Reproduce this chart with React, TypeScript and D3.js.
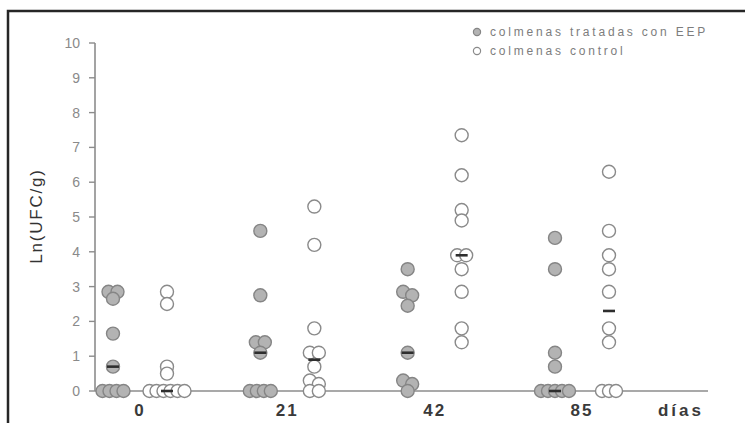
import React from "react";
import * as d3 from "d3";

// ---- data ----
const days = ["0", "21", "42", "85"];
const groups = ["tratadas", "control"];
const treated: number[][] = [
  [2.85, 2.85, 2.65, 1.65, 0.7, 0, 0, 0, 0],
  [4.6, 2.75, 1.4, 1.4, 1.1, 0, 0, 0, 0],
  [3.5, 2.85, 2.75, 2.45, 1.1, 0.3, 0.2, 0],
  [4.4, 3.5, 1.1, 0.7, 0, 0, 0, 0, 0],
];
const control: number[][] = [
  [2.85, 2.5, 0.7, 0.5, 0, 0, 0, 0, 0, 0],
  [5.3, 4.2, 1.8, 1.1, 1.1, 0.7, 0.3, 0.2, 0, 0],
  [7.35, 6.2, 5.2, 4.9, 3.9, 3.9, 3.5, 2.85, 1.8, 1.4],
  [6.3, 4.6, 3.9, 3.5, 2.85, 1.8, 1.4, 0, 0, 0],
];
const treatedMedian = [0.7, 1.1, 1.1, 0];
const controlMedian = [0, 0.9, 3.9, 2.3];
const yTicks = [0, 1, 2, 3, 4, 5, 6, 7, 8, 9, 10];
const legendLabels = ["colmenas tratadas con EEP", "colmenas control"];
const yTitle = "Ln(UFC/g)";
const xTitle = "días";

const W = 745;
const H = 423;
const axisX = 95;
const axisRight = 708;

const y = d3.scaleLinear().domain([0, 10]).range([391, 43]);
const xDay = d3.scalePoint<string>().domain(days).range([140, 582]);
const xGroup = d3.scalePoint<string>().domain(groups).range([-27, 27]);

const R = 6.5;

function layout(values: number[]) {
  // cluster (near-)identical values and spread them horizontally
  const sorted = [...values].sort((a, b) => b - a);
  const clusters: number[][] = [];
  sorted.forEach((v) => {
    const last = clusters[clusters.length - 1];
    if (last && Math.abs(last[0] - v) <= 0.12) last.push(v);
    else clusters.push([v]);
  });
  const out: { v: number; dx: number }[] = [];
  clusters.forEach((c) => {
    const n = c.length;
    const step = n === 2 ? 9 : 7;
    c.forEach((v, i) => out.push({ v, dx: (i - (n - 1) / 2) * step }));
  });
  return out;
}

const tickFont = "'Liberation Sans Narrow', 'Liberation Sans', Arial, sans-serif";
const font = "'Liberation Sans', Arial, sans-serif";

export default function App() {
  const sets = [
    { key: "tratadas", data: treated, med: treatedMedian, fill: "#b3b3b3", stroke: "#858585" },
    { key: "control", data: control, med: controlMedian, fill: "#ffffff", stroke: "#8a8a8a" },
  ];
  return (
    <svg
      width={W}
      height={H}
      style={{ position: "absolute", left: 0, top: 0, background: "#fff" }}
    >
      <rect x={0} y={0} width={W} height={H} fill="#fff" />
      <rect x={8} y={11} width={800} height={500} fill="none" stroke="#262626" strokeWidth={2.5} />

      {/* y axis */}
      <line x1={axisX} x2={axisX} y1={y(10)} y2={y(0)} stroke="#8c8c8c" strokeWidth={1.6} />
      {yTicks.map((t) => (
        <g key={t}>
          <line x1={axisX - 6} x2={axisX} y1={y(t)} y2={y(t)} stroke="#8c8c8c" strokeWidth={1.4} />
          <text
            x={axisX - 15}
            y={y(t)}
            dy="0.36em"
            textAnchor="end"
            fontSize={14}
            fontFamily={tickFont}
            fill="#8a8a8a"
          >
            {t}
          </text>
        </g>
      ))}
      {/* x axis */}
      <line x1={axisX} x2={axisRight} y1={y(0)} y2={y(0)} stroke="#8c8c8c" strokeWidth={1.6} />

      <text
        transform={`translate(42, 216) rotate(-90)`}
        textAnchor="middle"
        fontSize={17}
        fontFamily={font}
        fill="#333"
        letterSpacing={1.8}
      >
        {yTitle}
      </text>

      {days.map((d) => (
        <text
          key={d}
          x={xDay(d)}
          y={416}
          textAnchor="middle"
          fontSize={17}
          fontWeight="bold"
          fontFamily={font}
          fill="#3a3a3a"
          letterSpacing={2}
        >
          {d}
        </text>
      ))}
      <text
        x={681}
        y={416}
        textAnchor="middle"
        fontSize={17}
        fontWeight="bold"
        fontFamily={font}
        fill="#3a3a3a"
        letterSpacing={3}
      >
        {xTitle}
      </text>

      {/* points */}
      {sets.map((s) =>
        days.map((d, di) => {
          const cx = (xDay(d) as number) + (xGroup(s.key) as number);
          return (
            <g key={s.key + d}>
              {layout(s.data[di]).map((p, i) => (
                <circle
                  key={i}
                  cx={cx + p.dx}
                  cy={y(p.v)}
                  r={R}
                  fill={s.fill}
                  stroke={s.stroke}
                  strokeWidth={1.4}
                />
              ))}
              <line
                x1={cx - 6}
                x2={cx + 6}
                y1={y(s.med[di])}
                y2={y(s.med[di])}
                stroke="#2e2e2e"
                strokeWidth={2.6}
              />
            </g>
          );
        })
      )}

      {/* legend */}
      {sets.map((s, i) => (
        <g key={"lg" + s.key}>
          <circle cx={477} cy={32 + i * 19} r={3.6} fill={s.fill} stroke={s.stroke} strokeWidth={1.2} />
          <text
            x={490}
            y={32 + i * 19}
            dy="0.36em"
            fontSize={12}
            fontFamily={font}
            fill="#7d7d7d"
            letterSpacing={2.8}
          >
            {legendLabels[i]}
          </text>
        </g>
      ))}
    </svg>
  );
}
